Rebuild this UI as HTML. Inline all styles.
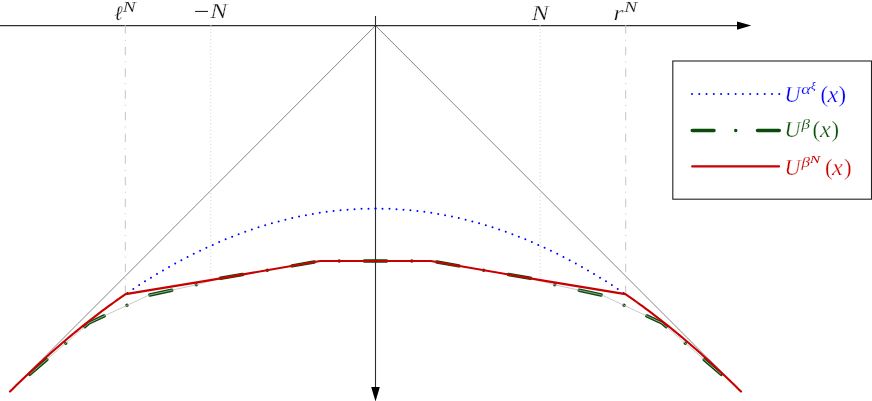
<!DOCTYPE html>
<html><head><meta charset="utf-8">
<style>
html,body{margin:0;padding:0;background:#fff;}
svg{display:block;}
text{font-family:"Liberation Serif",serif;font-style:italic;}
.u{font-style:normal;}
text{stroke:#fff;stroke-width:0.25px;paint-order:fill stroke;}
.s1{stroke-width:0.12px;}
.m{font-style:normal;stroke:none;}
.s2{stroke:none;}
</style></head><body>
<svg width="872" height="401" viewBox="0 0 872 401">
<defs><filter id="idf" x="-5%" y="-5%" width="110%" height="110%" color-interpolation-filters="sRGB"><feOffset dx="0" dy="0"/></filter></defs>
<rect width="872" height="401" fill="#fff"/>

<!-- diagonal gray lines -->
<g fill="none" stroke="#5e5e5e" stroke-width="0.75">
<line x1="375.5" y1="25.6" x2="10.0" y2="391.6"/>
<line x1="375.5" y1="25.6" x2="741.0" y2="391.6"/>
</g>

<!-- axes -->
<g stroke="#2e2e2e" stroke-width="1.1" fill="none">
<line x1="0" y1="25.6" x2="738" y2="25.6"/>
<line x1="375.5" y1="16" x2="375.5" y2="388"/>
</g>
<polygon points="737,21.4 737,29.8 751.3,25.6" fill="#000"/>
<polygon points="371.2,387 379.8,387 375.5,401.5" fill="#000"/>

<!-- vertical guide lines -->
<g fill="none" stroke-width="1">
<line x1="125.3" y1="25.1" x2="125.3" y2="293" stroke="#c4c4c4" stroke-dasharray="8.4 6.3 1 6"/>
<line x1="625.7" y1="25.1" x2="625.7" y2="293" stroke="#c4c4c4" stroke-dasharray="8.4 6.3 1 6"/>
<line x1="210.8" y1="25.1" x2="210.8" y2="279.5" stroke="#cfcfcf" stroke-dasharray="1 2.5"/>
<line x1="540.2" y1="25.1" x2="540.2" y2="279.5" stroke="#cfcfcf" stroke-dasharray="1 2.5"/>
</g>

<!-- blue dotted parabola -->
<clipPath id="bc"><rect x="125.5" y="200" width="500" height="100"/></clipPath>
<g fill="none" stroke="#0000ff" stroke-width="2" stroke-linecap="round" stroke-dasharray="0 7" clip-path="url(#bc)">
<path d="M375.5 208.6 Q192.75 208.6 10.0 391.6"/>
<path d="M375.5 208.6 Q558.25 208.6 741.0 391.6"/>
</g>

<!-- green dash-dot path -->
<g fill="none" stroke="#0a4a0a" stroke-width="3.5" stroke-linecap="round" stroke-linejoin="round" stroke-dasharray="22.4 25.13 0 25.13">
<polyline points="29.80,374.30 89.00,323.00 149.00,295.10 197.00,284.70 216.00,279.10 320.20,261.00 375.50,261.00"/>
<polyline points="721.20,374.30 662.00,323.00 602.00,295.10 554.00,284.70 535.00,279.10 430.80,261.00 375.50,261.00"/>
</g>
<polyline points="29.80,374.30 89.00,323.00 149.00,295.10 197.00,284.70 216.00,279.10 320.20,261.00 375.50,261.00 430.80,261.00 535.00,279.10 554.00,284.70 602.00,295.10 662.00,323.00 721.20,374.30" fill="none" stroke="#bdbdbd" stroke-width="0.8"/>

<!-- red path -->
<polyline points="10.00,391.60 12.89,388.72 15.78,385.86 18.67,383.02 21.56,380.21 24.45,377.42 27.34,374.65 30.23,371.90 33.12,369.18 36.01,366.48 38.90,363.80 41.79,361.15 44.68,358.52 47.57,355.91 50.46,353.33 53.35,350.76 56.24,348.23 59.13,345.71 62.02,343.22 64.91,340.75 67.80,338.30 70.69,335.87 73.58,333.47 76.47,331.09 79.36,328.74 82.25,326.40 85.14,324.09 88.03,321.80 90.92,319.54 93.81,317.30 96.70,315.08 99.59,312.88 102.48,310.71 105.37,308.56 108.26,306.43 111.15,304.33 114.04,302.25 116.93,300.19 119.82,298.15 122.71,296.14 125.60,294.15 210.50,280.10 320.20,261.00 430.80,261.00 540.50,280.10 625.40,294.15 628.29,296.14 631.18,298.15 634.07,300.19 636.96,302.25 639.85,304.33 642.74,306.43 645.63,308.56 648.52,310.71 651.41,312.88 654.30,315.08 657.19,317.30 660.08,319.54 662.97,321.80 665.86,324.09 668.75,326.40 671.64,328.74 674.53,331.09 677.42,333.47 680.31,335.87 683.20,338.30 686.09,340.75 688.98,343.22 691.87,345.71 694.76,348.23 697.65,350.76 700.54,353.33 703.43,355.91 706.32,358.52 709.21,361.15 712.10,363.80 714.99,366.48 717.88,369.18 720.77,371.90 723.66,374.65 726.55,377.42 729.44,380.21 732.33,383.02 735.22,385.86 738.11,388.72 741.00,391.60" fill="none" stroke="#c80000" stroke-width="2.1" stroke-linecap="round" stroke-linejoin="round"/>

<!-- labels -->
<g fill="#111" filter="url(#idf)">
<text x="114.2" y="19.6" font-size="20.5">ℓ</text>
<text x="122.8" y="12" class="s1" font-size="14.5" textLength="13" lengthAdjust="spacingAndGlyphs">N</text>
<text x="193.7" y="17.5" font-size="20.5" class="m" textLength="15.6" lengthAdjust="spacingAndGlyphs">−</text>
<text x="210.3" y="17.5" font-size="20.5" textLength="17" lengthAdjust="spacingAndGlyphs">N</text>
<text x="531.7" y="19.6" font-size="20.5" textLength="17" lengthAdjust="spacingAndGlyphs">N</text>
<text x="613.6" y="19.6" font-size="20.5" textLength="10" lengthAdjust="spacingAndGlyphs">r</text>
<text x="624.3" y="12" class="s1" font-size="14.5" textLength="13" lengthAdjust="spacingAndGlyphs">N</text>
</g>

<!-- legend -->
<rect x="672.8" y="61" width="198.7" height="138.2" fill="#fff" stroke="#222" stroke-width="1.1"/>
<line x1="692" y1="94.1" x2="780" y2="94.1" stroke="#0000ff" stroke-width="2" stroke-linecap="round" stroke-dasharray="0 7.27"/>
<line x1="692.25" y1="130.4" x2="779.3" y2="130.4" stroke="#0a4a0a" stroke-width="3.5" stroke-linecap="round" stroke-dasharray="21.75 21.75 0 21.75"/>
<line x1="692.2" y1="166.4" x2="779" y2="166.4" stroke="#c80000" stroke-width="2.2" stroke-linecap="round"/>

<g fill="#0000ff" font-size="22.8" filter="url(#idf)">
<text x="784.6" y="101.9" textLength="16" lengthAdjust="spacingAndGlyphs">U</text>
<text x="801.2" y="93.8" font-size="15" class="s1" textLength="9.4" lengthAdjust="spacingAndGlyphs">α</text>
<text x="811" y="88.6" font-size="11" class="s2">ξ</text>
<text x="820.6" y="101.9" class="u">(</text>
<text x="827.4" y="101.9" textLength="10.8" lengthAdjust="spacingAndGlyphs">x</text>
<text x="838.4" y="101.9" class="u">)</text>
</g>
<g fill="#0b500b" font-size="22.8" filter="url(#idf)">
<text x="784.6" y="136.8" textLength="16" lengthAdjust="spacingAndGlyphs">U</text>
<text x="801.5" y="128.6" font-size="15" class="s1" textLength="8.5" lengthAdjust="spacingAndGlyphs">β</text>
<text x="812.5" y="136.8" class="u">(</text>
<text x="819.9" y="136.8" textLength="10.8" lengthAdjust="spacingAndGlyphs">x</text>
<text x="831.5" y="136.8" class="u">)</text>
</g>
<g fill="#c80000" font-size="22.8" filter="url(#idf)">
<text x="784.6" y="175.1" textLength="16" lengthAdjust="spacingAndGlyphs">U</text>
<text x="801.5" y="167" font-size="15" class="s1" textLength="8.5" lengthAdjust="spacingAndGlyphs">β</text>
<text x="809.8" y="162.6" class="s2" font-size="11" textLength="10.5" lengthAdjust="spacingAndGlyphs">N</text>
<text x="825" y="175.1" class="u">(</text>
<text x="832" y="175.1" textLength="10.8" lengthAdjust="spacingAndGlyphs">x</text>
<text x="844" y="175.1" class="u">)</text>
</g>
</svg>
</body></html>
